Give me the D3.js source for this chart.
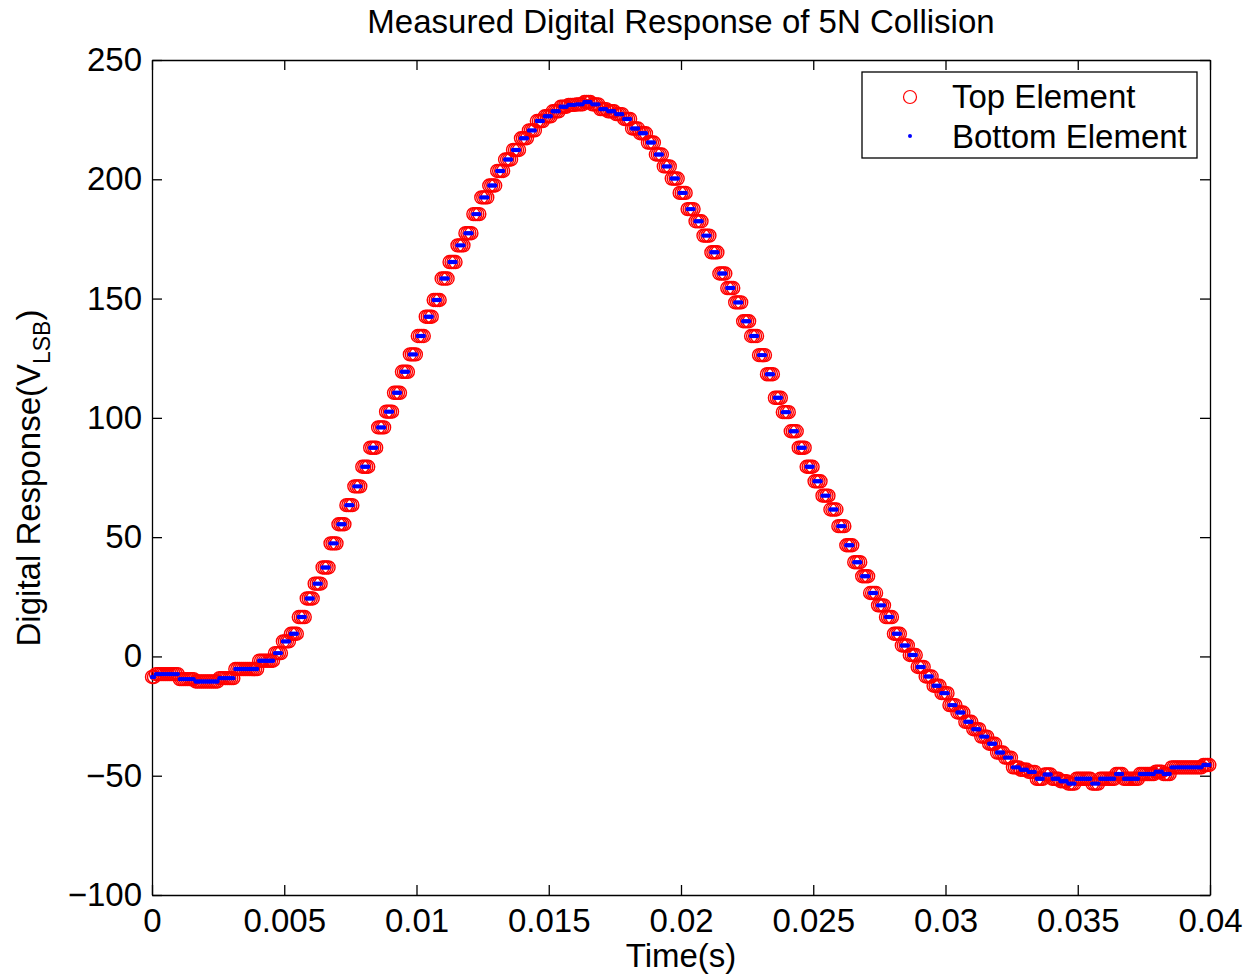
<!DOCTYPE html>
<html>
<head>
<meta charset="utf-8">
<script src="https://cdn.jsdelivr.net/npm/d3@7"></script>
<style>
  body { margin: 0; background: #fff; }
  text { font-family: "Liberation Sans", Arial, Helvetica, sans-serif; fill: #000; }
</style>
</head>
<body>
<div id="chart"></div>
<script>
// Held ADC levels (one per 0.3 ms)
var topLevels = [
  -8.6, -7.4, -7.4, -7.4, -9.5, -9.5, -10.5, -10.5, -10.5, -9.1,
  -9.1, -5.3, -5.3, -5.3, -1.8, -1.8, 1.4, 6.3, 9.5, 16.5,
  24.3, 30.5, 37.3, 47.4, 55.4, 63.4, 71.3, 79.5, 87.5, 96,
  102.6, 110.5, 119.3, 126.6, 134.3, 142.4, 149.4, 158.4, 165.3, 172.3,
  177.4, 185.4, 192.4, 197.4, 203.5, 208.3, 212.3, 217.2, 220.5, 224.4,
  226.4, 228.5, 230.4, 231.2, 231.4, 232.4, 231.4, 229.4, 228.5, 227.3,
  225.3, 221.3, 219.3, 215.4, 210.4, 205.4, 200.3, 194.3, 187.5, 182.4,
  176.4, 169.4, 160.5, 154.4, 148.4, 140.5, 134.3, 126.3, 118.3, 108.4,
  102.4, 94.4, 87.5, 79.5, 73.4, 67.4, 61.6, 54.6, 46.6, 39.5,
  33.6, 26.6, 21.4, 16.5, 9.5, 4.6, 0.6, -4.4, -8.4, -12.3,
  -15.4, -20.4, -23.5, -27.4, -30.5, -33.6, -36.6, -40.3, -42.4, -46.5,
  -47.5, -48.4, -51.3, -49.5, -51.3, -52.3, -53.3, -51.3, -51.3, -53.3,
  -51.3, -51.3, -49.3, -51.3, -51.3, -49.3, -49.3, -48.3, -49.3, -46.5,
  -46.5, -46.5, -46.5, -45.5
];
// the bottom element reads the same levels
var bottomLevels = [
  -8.6, -7.4, -7.4, -7.4, -9.5, -9.5, -10.5, -10.5, -10.5, -9.1,
  -9.1, -5.3, -5.3, -5.3, -1.8, -1.8, 1.4, 6.3, 9.5, 16.5,
  24.3, 30.5, 37.3, 47.4, 55.4, 63.4, 71.3, 79.5, 87.5, 96,
  102.6, 110.5, 119.3, 126.6, 134.3, 142.4, 149.4, 158.4, 165.3, 172.3,
  177.4, 185.4, 192.4, 197.4, 203.5, 208.3, 212.3, 217.2, 220.5, 224.4,
  226.4, 228.5, 230.4, 231.2, 231.4, 232.4, 231.4, 229.4, 228.5, 227.3,
  225.3, 221.3, 219.3, 215.4, 210.4, 205.4, 200.3, 194.3, 187.5, 182.4,
  176.4, 169.4, 160.5, 154.4, 148.4, 140.5, 134.3, 126.3, 118.3, 108.4,
  102.4, 94.4, 87.5, 79.5, 73.4, 67.4, 61.6, 54.6, 46.6, 39.5,
  33.6, 26.6, 21.4, 16.5, 9.5, 4.6, 0.6, -4.4, -8.4, -12.3,
  -15.4, -20.4, -23.5, -27.4, -30.5, -33.6, -36.6, -40.3, -42.4, -46.5,
  -47.5, -48.4, -51.3, -49.5, -51.3, -52.3, -53.3, -51.3, -51.3, -53.3,
  -51.3, -51.3, -49.3, -51.3, -51.3, -49.3, -49.3, -48.3, -49.3, -46.5,
  -46.5, -46.5, -46.5, -45.5
];

// sampling: 75 us per sample, the level updates every 4 samples
var samplePeriod = 0.000075;
var samplesPerLevel = 4;
var sampleCount = 534;

var xTicks = [0, 0.005, 0.01, 0.015, 0.02, 0.025, 0.03, 0.035, 0.04];
var yTicks = [-100, -50, 0, 50, 100, 150, 200, 250];
var seriesNames = ["Top Element", "Bottom Element"];

// SVG + margins
var svgWidth = 1252;
var svgHeight = 975;
var margin = { top: 60, right: 42, bottom: 80, left: 152 };
var chartWidth = svgWidth - margin.left - margin.right;
var chartHeight = svgHeight - margin.top - margin.bottom;

var svg = d3.select("#chart")
  .append("svg")
  .attr("width", svgWidth)
  .attr("height", svgHeight);

var chartGroup = svg.append("g")
  .attr("transform", `translate(${margin.left}, ${margin.top})`);

// expand held levels into individual samples
function toSamples(levels) {
  var out = [];
  for (var n = 0; n < sampleCount; n++) {
    var k = Math.floor((n + samplesPerLevel / 2) / samplesPerLevel);
    out.push({ t: n * samplePeriod, v: levels[k] });
  }
  return out;
}
var topData = toSamples(topLevels);
var bottomData = toSamples(bottomLevels);

// scales
var xLinearScale = d3.scaleLinear().domain([0, 0.04]).range([0, chartWidth]);
var yLinearScale = d3.scaleLinear().domain([-100, 250]).range([chartHeight, 0]);

var fmtX = d => d === 0 ? "0" : String(+d.toFixed(3));
var fmtY = d => d < 0 ? "\u2212" + Math.abs(d) : String(d);

// axes, ticks pointing inward
var bottomAxis = d3.axisBottom(xLinearScale).tickValues(xTicks).tickFormat(fmtX)
  .tickSizeInner(-10).tickSizeOuter(0).tickPadding(14);
var leftAxis = d3.axisLeft(yLinearScale).tickValues(yTicks).tickFormat(fmtY)
  .tickSizeInner(-10).tickSizeOuter(0).tickPadding(10);
var topAxis = d3.axisTop(xLinearScale).tickValues(xTicks).tickFormat("")
  .tickSizeInner(-10).tickSizeOuter(0);
var rightAxis = d3.axisRight(yLinearScale).tickValues(yTicks).tickFormat("")
  .tickSizeInner(-10).tickSizeOuter(0);

function styleAxis(g) {
  g.selectAll("path, line").attr("stroke", "#000").attr("stroke-width", 1.3);
  g.selectAll("text").style("font-size", "33px").attr("fill", "#000");
}

chartGroup.append("g")
  .attr("transform", `translate(0, ${chartHeight})`)
  .call(bottomAxis).call(styleAxis);
chartGroup.append("g").call(leftAxis).call(styleAxis);
chartGroup.append("g").call(topAxis).call(styleAxis);
chartGroup.append("g")
  .attr("transform", `translate(${chartWidth}, 0)`)
  .call(rightAxis).call(styleAxis);

// markers
chartGroup.append("g").selectAll("circle")
  .data(topData)
  .enter().append("circle")
  .attr("cx", d => xLinearScale(d.t))
  .attr("cy", d => yLinearScale(d.v))
  .attr("r", 6.5)
  .attr("fill", "none")
  .attr("stroke", "#ff0000")
  .attr("stroke-width", 1.4);

chartGroup.append("g").selectAll("circle")
  .data(bottomData)
  .enter().append("circle")
  .attr("cx", d => xLinearScale(d.t))
  .attr("cy", d => yLinearScale(d.v))
  .attr("r", 2.2)
  .attr("fill", "#0000ff");

// title
svg.append("text")
  .attr("x", margin.left + chartWidth / 2)
  .attr("y", 33)
  .attr("text-anchor", "middle")
  .style("font-size", "33px")
  .text("Measured Digital Response of 5N Collision");

// x label
svg.append("text")
  .attr("x", margin.left + chartWidth / 2)
  .attr("y", 967)
  .attr("text-anchor", "middle")
  .style("font-size", "33px")
  .text("Time(s)");

// y label with subscript
var yLabel = svg.append("text")
  .attr("transform", "translate(40, 478) rotate(-90)")
  .attr("text-anchor", "middle")
  .style("font-size", "33px");
yLabel.append("tspan").text("Digital Response(V");
yLabel.append("tspan").attr("dy", 10).style("font-size", "23px").text("LSB");
yLabel.append("tspan").attr("dy", -10).text(")");

// legend
var legend = svg.append("g").attr("transform", "translate(862, 72)");
legend.append("rect")
  .attr("width", 335)
  .attr("height", 86)
  .attr("fill", "#fff")
  .attr("stroke", "#000")
  .attr("stroke-width", 1.3);
legend.append("circle")
  .attr("cx", 48).attr("cy", 25).attr("r", 6.5)
  .attr("fill", "none").attr("stroke", "#ff0000").attr("stroke-width", 1.2);
legend.append("circle")
  .attr("cx", 48).attr("cy", 64).attr("r", 2)
  .attr("fill", "#0000ff");
legend.selectAll("text.leg")
  .data(seriesNames)
  .enter().append("text")
  .attr("class", "leg")
  .attr("x", 90)
  .attr("y", (d, i) => 36 + i * 40)
  .style("font-size", "33px")
  .text(d => d);
</script>
</body>
</html>
